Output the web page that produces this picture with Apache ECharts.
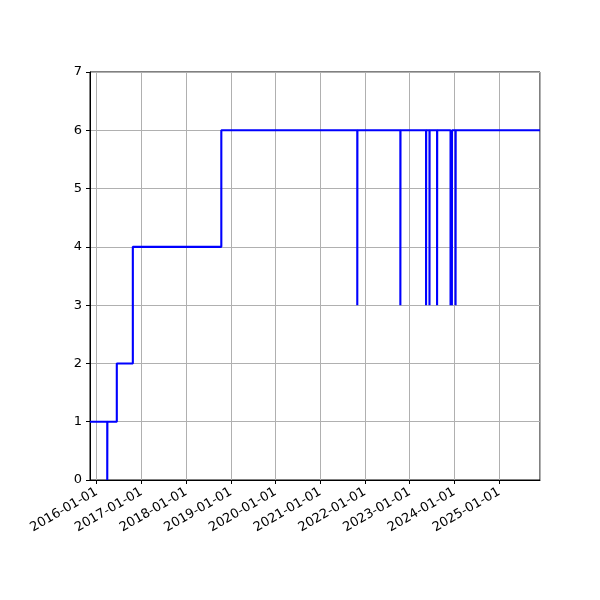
<!DOCTYPE html>
<html>
<head>
<meta charset="utf-8">
<script src="https://cdn.jsdelivr.net/npm/echarts@6/dist/echarts.min.js"></script>
<style>
  html, body { margin: 0; padding: 0; background: #fff; }
  #chart { width: 600px; height: 600px; }
</style>
</head>
<body>
<div id="chart"></div>
<script>
// step points (value holds from this date until the next one)
var dates = [
    '2015-11-07', '2016-03-27', '2016-03-28', '2016-06-13', '2016-10-22',
    '2018-10-15',
    '2021-10-30', '2021-10-31',
    '2022-10-17', '2022-10-18',
    '2023-05-15', '2023-05-16',
    '2023-06-12', '2023-06-13',
    '2023-08-13', '2023-08-14',
    '2023-12-01', '2023-12-02',
    '2023-12-12', '2023-12-13',
    '2024-01-11', '2024-01-12',
    '2025-12-01'
];
var values = [
    1, 0, 1, 2, 4,
    6,
    3, 6,
    3, 6,
    3, 6,
    3, 6,
    3, 6,
    3, 6,
    3, 6,
    3, 6,
    6
];
var xMin = '2015-11-07';
var xMax = '2025-12-01';
var yTicks = [0, 1, 2, 3, 4, 5, 6, 7];

var DAY = 86400000;
var seriesData = dates.map(function (d, i) {
    return [d, values[i]];
});

var chart = echarts.init(document.getElementById('chart'));
var option = {
    animation: false,
    grid: {
        left: 90,
        right: 60,
        top: 72,
        bottom: 120,
        show: true,
        borderColor: '#000',
        borderWidth: 1,
        backgroundColor: 'transparent'
    },
    xAxis: {
        type: 'time',
        min: xMin,
        max: xMax,
        minInterval: 365 * DAY,
        maxInterval: 366 * DAY,
        splitNumber: 10,
        axisLine: { show: true, lineStyle: { color: '#000', width: 1 } },
        axisTick: { show: true, inside: false, length: 4, lineStyle: { color: '#000' } },
        splitLine: { show: true, lineStyle: { color: '#b0b0b0', width: 1 } },
        minorTick: { show: false },
        axisLabel: {
            formatter: '{yyyy}-{MM}-{dd}',
            rotate: 30,
            color: '#000',
            fontSize: 13,
            fontFamily: 'DejaVu Sans',
            margin: 11,
            showMinLabel: false,
            showMaxLabel: false,
            hideOverlap: false
        }
    },
    yAxis: {
        type: 'value',
        min: yTicks[0],
        max: yTicks[yTicks.length - 1],
        interval: 1,
        axisLine: { show: true, lineStyle: { color: '#000', width: 1 } },
        axisTick: { show: true, inside: false, length: 4, lineStyle: { color: '#000' } },
        splitLine: { show: true, lineStyle: { color: '#b0b0b0', width: 1 } },
        axisLabel: {
            color: '#000',
            fontSize: 13,
            fontFamily: 'DejaVu Sans',
            margin: 8
        }
    },
    series: [
        {
            type: 'line',
            step: 'end',
            data: seriesData,
            showSymbol: false,
            symbol: 'none',
            lineStyle: { color: '#0000ff', width: 2.1 }
        }
    ]
};
chart.setOption(option);
</script>
</body>
</html>
